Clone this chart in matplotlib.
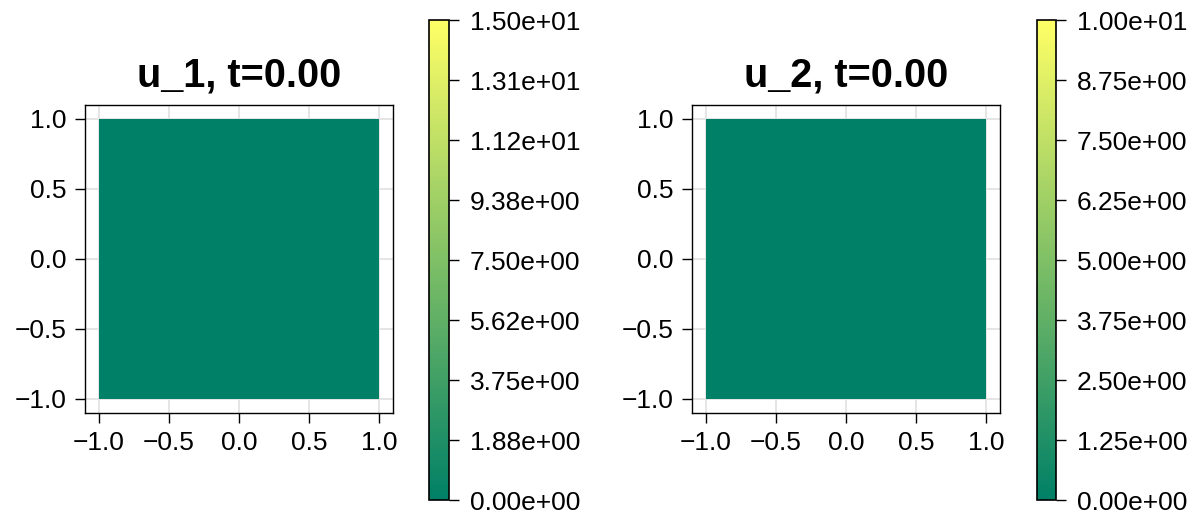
import numpy as np
import matplotlib
matplotlib.use("Agg")
import matplotlib.pyplot as plt

plt.rcParams["font.family"] = ["Liberation Sans", "DejaVu Sans"]

# domain corners and the two fields at t = 0
x_edges = [-1.0, 1.0]
y_edges = [-1.0, 1.0]
u1 = [[0.0]]
u2 = [[0.0]]
titles = ["u_1, t=0.00", "u_2, t=0.00"]
clims = [(0.0, 15.0), (0.0, 10.0)]
axis_ticks = [-1.0, -0.5, 0.0, 0.5, 1.0]

W, H = 1198, 515
fig = plt.figure(figsize=(W / 100, H / 100), dpi=100)


def box(x0, y0, x1, y1):
    """pixel box (top-left origin) -> figure fraction rect"""
    return [x0 / W, 1 - y1 / H, (x1 - x0) / W, (y1 - y0) / H]


panels = [
    (u1, box(85, 105, 393, 413), box(429, 20, 449, 500)),
    (u2, box(692, 105, 1000, 413), box(1037, 20, 1056, 500)),
]

for (field, ax_rect, cb_rect), title, (vmin, vmax) in zip(panels, titles, clims):
    ax = fig.add_axes(ax_rect)
    cax = fig.add_axes(cb_rect)

    mesh = ax.pcolormesh(x_edges, y_edges, np.asarray(field), cmap="summer",
                         vmin=vmin, vmax=vmax, shading="flat", zorder=2)
    ax.set_xlim(-1.1, 1.1)
    ax.set_ylim(-1.1, 1.1)
    ax.set_xticks(axis_ticks)
    ax.set_yticks(axis_ticks)
    ax.set_xticklabels([f"{t:.1f}".replace("-", "\u2212") for t in axis_ticks])
    ax.set_yticklabels([f"{t:.1f}".replace("-", "\u2212") for t in axis_ticks])
    ax.grid(True, color="#e3e3e3", linewidth=1.3, zorder=0)
    ax.set_axisbelow(True)
    ax.tick_params(direction="out", length=7, width=1.0, labelsize=19, pad=6)
    for sp in ax.spines.values():
        sp.set_linewidth(1.0)
    ax.set_title(title, fontsize=28.5, fontweight="bold", pad=13)

    cb = fig.colorbar(mesh, cax=cax)
    cticks = np.linspace(vmin, vmax, 9)
    cb.set_ticks(cticks)
    cb.set_ticklabels([f"{t:.2e}" for t in cticks])
    cb.outline.set_linewidth(1.2)
    cax.tick_params(direction="out", length=7, width=1.0, labelsize=19, pad=8)

fig.savefig("out.png", dpi=100)
